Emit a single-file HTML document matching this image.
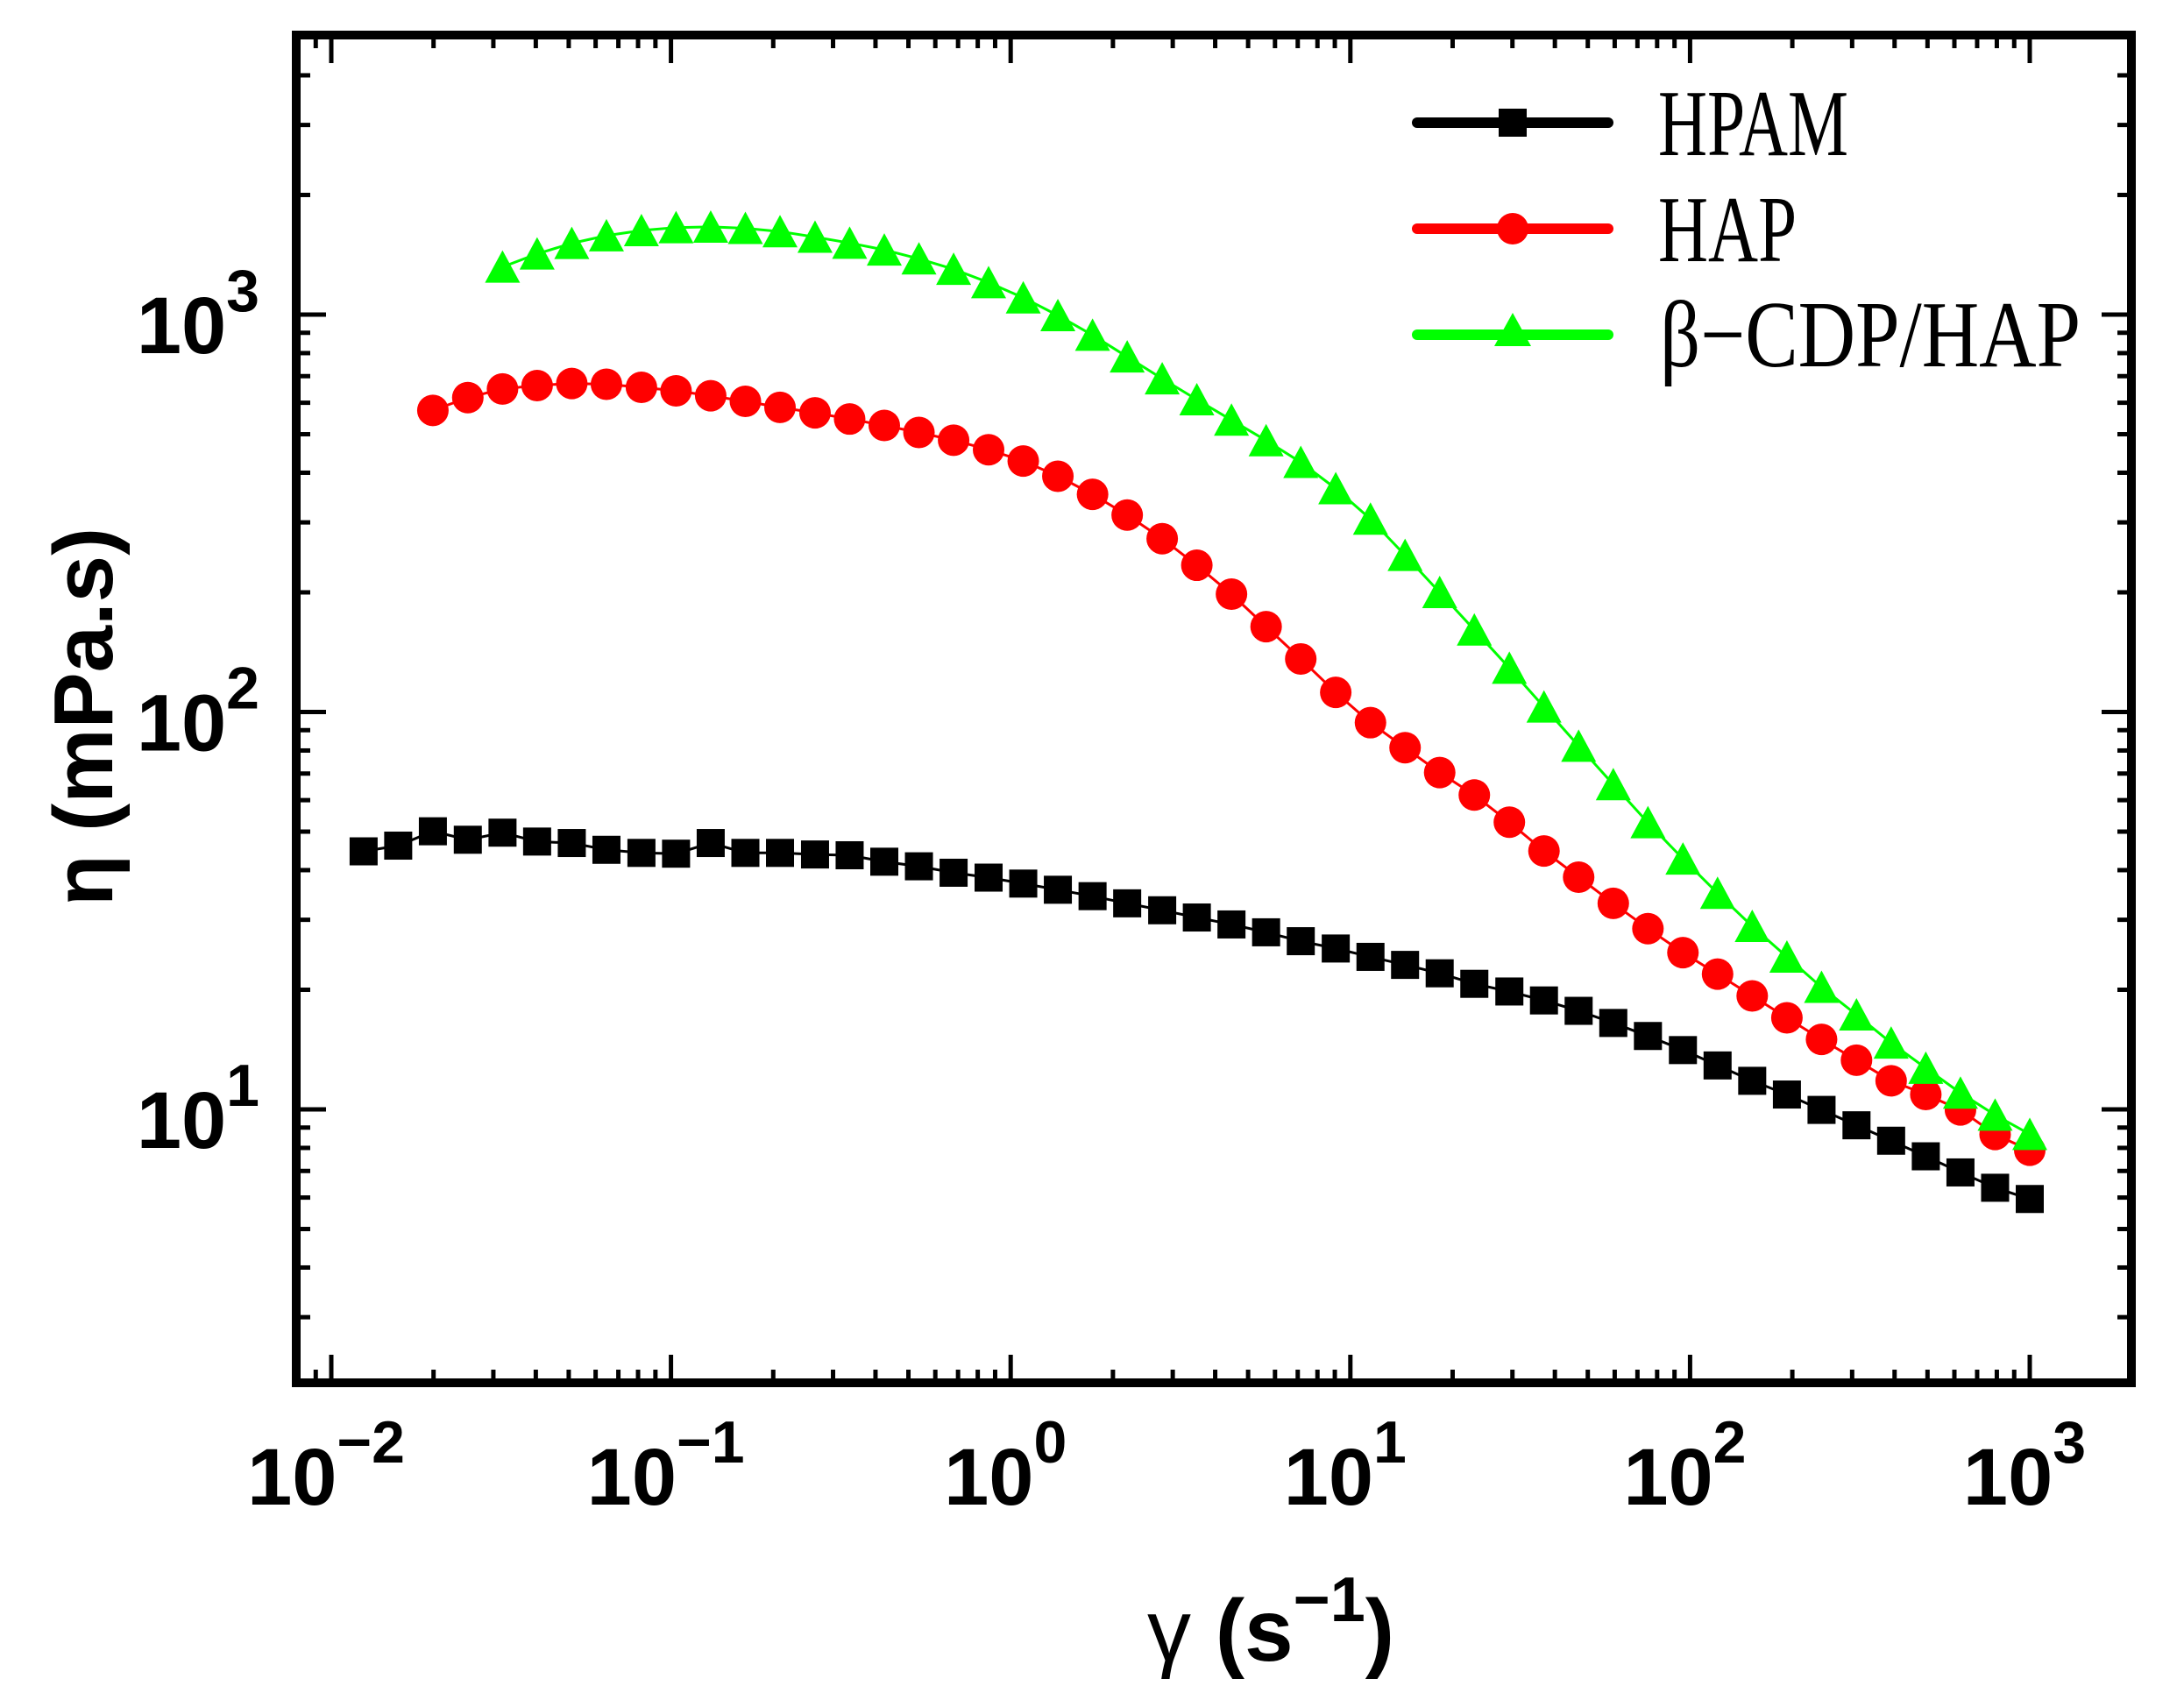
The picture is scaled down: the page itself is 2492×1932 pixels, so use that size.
<!DOCTYPE html>
<html><head><meta charset="utf-8"><style>
html,body{margin:0;padding:0;background:#fff;}
svg{display:block;}
</style></head><body>
<svg id="chart" width="2492" height="1932" viewBox="0 0 2492 1932" xmlns="http://www.w3.org/2000/svg">
<rect x="0" y="0" width="2492" height="1932" fill="#fff"/>
<g id="series"></g>
<g id="axes"></g>
<text transform="translate(128,818) rotate(-90)" text-anchor="middle" font-family="Liberation Sans, sans-serif" font-weight="bold" font-size="96">η (mPa.s)</text>
<text x="1450" y="1895" text-anchor="middle" font-family="Liberation Sans, sans-serif" font-weight="bold" font-size="100"><tspan font-weight="normal">γ</tspan> (s<tspan dy="-45" font-size="72">−1</tspan><tspan dy="45">)</tspan></text>
<g font-family="Liberation Serif, serif" font-size="108">
 <g>
  <line x1="1617" y1="140" x2="1835" y2="140" stroke="#000" stroke-width="12" stroke-linecap="round"/>
  <rect x="1710" y="124" width="32" height="32" fill="#000"/>
  <text x="1892" y="177" textLength="217" lengthAdjust="spacingAndGlyphs">HPAM</text>
 </g>
 <g>
  <line x1="1617" y1="261" x2="1835" y2="261" stroke="#f00" stroke-width="12" stroke-linecap="round"/>
  <circle cx="1726" cy="261" r="18" fill="#f00"/>
  <text x="1892" y="298" textLength="158" lengthAdjust="spacingAndGlyphs">HAP</text>
 </g>
 <g>
  <line x1="1617" y1="382" x2="1835" y2="382" stroke="#0f0" stroke-width="12" stroke-linecap="round"/>
  <polygon points="1726,357 1747,395 1705,395" fill="#0f0"/>
  <text x="1894" y="418" textLength="480" lengthAdjust="spacingAndGlyphs">β−CDP/HAP</text>
 </g>
</g>
</svg>
<script>
const shearRates = [0.01245,0.01574,0.01991,0.02523,0.03192,0.04036,0.05105,0.06457,0.08185,0.1035,0.1309,0.1656,0.2094,0.2655,0.3357,0.4246,0.5370,0.6792,0.8610,1.089,1.377,1.742,2.203,2.793,3.532,4.467,5.649,7.145,9.057,11.46,14.49,18.32,23.17,29.38,37.15,46.99,59.43,75.16,95.28,120.5,152.4,192.8,243.8,309.0,390.8,494.3,625.2,790.7,1000];
const hpamValues = [44.6,46.1,50.1,47.7,49.7,47.2,46.8,45.0,44.2,44.0,46.8,44.2,44.2,43.8,43.6,42.0,40.9,39.4,38.3,37.0,35.7,34.4,33.0,31.7,30.4,29.2,27.9,26.5,25.4,24.2,23.1,22.0,20.7,19.8,18.8,17.7,16.5,15.3,14.1,12.9,11.8,10.9,9.97,9.12,8.34,7.62,6.94,6.35,5.95];
const hapValues = [574,618,650,663,671,668,656,643,625,605,584,566,546,526,505,483,457,428,392,353,313,273,234,198,164,136,112,94.0,81.3,70.4,61.8,52.8,44.7,38.4,33.0,28.5,24.8,21.9,19.3,17.0,15.0,13.3,11.8,10.9,9.97,8.65,7.89];
const cdpHapValues = [1318,1422,1512,1580,1628,1656,1662,1649,1618,1567,1514,1455,1382,1301,1204,1103,995,888,783,690,611,543,482,425,365,306,248,200,161,129,103,82.1,65.7,52.7,42.7,35.0,28.9,24.2,20.3,17.3,14.7,12.7,11.0,9.68,8.66];
const xTickExps = [-2,-1,0,1,2,3];
const yTickExps = [1,2,3];

const NS='http://www.w3.org/2000/svg';
const L=338,R=2432,T=40,B=1578;
function xs(v){return 378+(Math.log10(v)+2)*387.6;}
function ys(v){return 359+(3-Math.log10(v))*453.5;}
function mk(tag,attrs,parent){const e=document.createElementNS(NS,tag);for(const k in attrs)e.setAttribute(k,attrs[k]);parent.appendChild(e);return e;}
const series=document.getElementById('series');
const axes=document.getElementById('axes');

function drawSeries(vals,offset,color,shape,name){
  const g=mk('g',{},series);
  
  
  const pts=vals.map((v,i)=>xs(shearRates[i+offset]).toFixed(1)+','+ys(v).toFixed(1)).join(' ');
  const line=mk('polyline',{points:pts,fill:'none',stroke:color,'stroke-width':3},g);
  
  
  vals.forEach((v,i)=>{
    const x=xs(shearRates[i+offset]),y=ys(v);let m;
    if(shape==='square')m=mk('rect',{x:x-16,y:y-16,width:32,height:32,fill:color},g);
    else if(shape==='circle')m=mk('circle',{cx:x,cy:y,r:18,fill:color},g);
    else m=mk('polygon',{points:`${x},${y-19} ${x+20},${y+18} ${x-20},${y+18}`,fill:color},g);
    
    
  });
}
drawSeries(hpamValues,0,'#000','square','hpam');
drawSeries(hapValues,2,'#f00','circle','hap');
drawSeries(cdpHapValues,4,'#0f0','triangle','cdp-hap');

const frame=mk('rect',{x:L,y:T,width:R-L,height:B-T,fill:'none',stroke:'#000','stroke-width':10},axes);


for(let e=-3;e<=3;e++){
  for(let m=1;m<=9;m++){
    const v=m*Math.pow(10,e);const x=xs(v);
    if(x<L+4||x>R-4)continue;
    const len=m===1?32:15;
    const t1=mk('line',{x1:x,y1:B,x2:x,y2:B-len,stroke:'#000','stroke-width':5},axes);
    
    
    const t2=mk('line',{x1:x,y1:T,x2:x,y2:T+len,stroke:'#000','stroke-width':5},axes);
    
    
  }
}
for(let e=0;e<=4;e++){
  for(let m=1;m<=9;m++){
    const v=m*Math.pow(10,e);const y=ys(v);
    if(y<T+4||y>B-4)continue;
    const len=m===1?34:16;
    const t1=mk('line',{x1:L,y1:y,x2:L+len,y2:y,stroke:'#000','stroke-width':5},axes);
    
    
    const t2=mk('line',{x1:R,y1:y,x2:R-len,y2:y,stroke:'#000','stroke-width':5},axes);
    
    
  }
}
xTickExps.forEach(e=>{
  const x=xs(Math.pow(10,e));
  const t=mk('text',{x:x-6,y:1717,'text-anchor':'middle','font-family':'Liberation Sans, sans-serif','font-weight':'bold','font-size':92},axes);
  
  
  t.textContent='10';
  const s=mk('tspan',{dy:-48,'font-size':68},t);
  s.textContent=(e<0?'−':'')+Math.abs(e);
});
yTickExps.forEach(e=>{
  const y=ys(Math.pow(10,e));
  const t=mk('text',{x:296,y:y+44,'text-anchor':'end','font-family':'Liberation Sans, sans-serif','font-weight':'bold','font-size':92},axes);
  
  
  t.textContent='10';
  const s=mk('tspan',{dy:-48,'font-size':68},t);
  s.textContent=String(e);
});
</script>
</body></html>
